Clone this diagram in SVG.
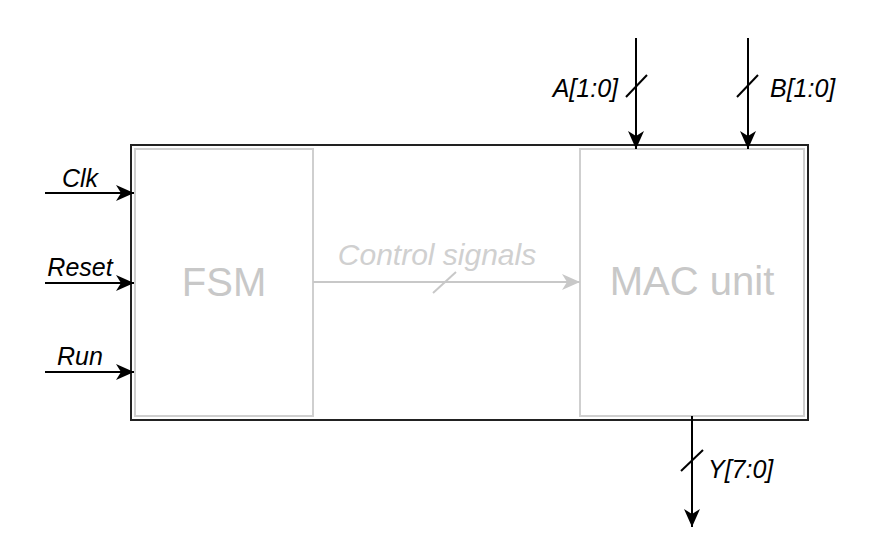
<svg xmlns="http://www.w3.org/2000/svg" width="879" height="550" viewBox="0 0 879 550">
<style>
.lbl{font-family:"Liberation Sans",Arial,sans-serif;font-style:italic;font-size:25px;fill:#000}
.big{font-family:"Liberation Sans",Arial,sans-serif;font-size:40px;fill:#c8c8c8;text-anchor:middle}
.ctl{font-family:"Liberation Sans",Arial,sans-serif;font-style:italic;font-size:30px;fill:#d0d0d0}
.wire{stroke:#000;stroke-width:2;fill:none}
.gwire{stroke:#c8c8c8;stroke-width:2;fill:none}
.inner{fill:#fff;stroke:#cfcfcf;stroke-width:2}
</style>
<defs>
<marker id="ah" viewBox="0 0 18 16" refX="18" refY="8" markerWidth="18" markerHeight="16" markerUnits="userSpaceOnUse" orient="auto">
<path d="M0,0 L18,8 L0,16 L5,8 Z" fill="#000"/>
</marker>
<marker id="ahg" viewBox="0 0 18 16" refX="18" refY="8" markerWidth="18" markerHeight="16" markerUnits="userSpaceOnUse" orient="auto">
<path d="M0,0 L18,8 L0,16 L5,8 Z" fill="#c8c8c8"/>
</marker>
</defs>
<rect width="879" height="550" fill="#fff"/>
<g id="top">
<rect x="131" y="145" width="677" height="275" fill="#fff" stroke="#222" stroke-width="2"/>
</g>
<g id="fsm">
<rect class="inner" x="135" y="149" width="178" height="267"/>
<text class="big" x="224" y="296">FSM</text>
</g>
<g id="mac">
<rect class="inner" x="580" y="149" width="224" height="267"/>
<text class="big" x="692" y="295">MAC unit</text>
</g>
<g id="connectors">
<line class="wire" x1="45" y1="193" x2="134" y2="193" marker-end="url(#ah)"/>
<line class="wire" x1="45" y1="283" x2="134" y2="283" marker-end="url(#ah)"/>
<line class="wire" x1="45" y1="372" x2="134" y2="372" marker-end="url(#ah)"/>
<line class="wire" x1="636" y1="38" x2="636" y2="149" marker-end="url(#ah)"/>
<line class="wire" x1="748" y1="38" x2="748" y2="149" marker-end="url(#ah)"/>
<line class="wire" x1="692" y1="416" x2="692" y2="527" marker-end="url(#ah)"/>
<line class="gwire" x1="313" y1="282" x2="580" y2="282" marker-end="url(#ahg)"/>
<line class="wire" x1="626" y1="97" x2="647" y2="75"/>
<line class="wire" x1="737" y1="97" x2="758" y2="75"/>
<line class="wire" x1="681" y1="471" x2="703" y2="450"/>
<line class="gwire" x1="433" y1="293" x2="456" y2="272"/>
</g>
<g id="labels">
<text class="lbl" x="80" y="187" text-anchor="middle">Clk</text>
<text class="lbl" x="80" y="276" text-anchor="middle">Reset</text>
<text class="lbl" x="80" y="365" text-anchor="middle">Run</text>
<text class="lbl" x="618" y="97" text-anchor="end">A[1:0]</text>
<text class="lbl" x="770" y="97">B[1:0]</text>
<text class="lbl" x="708" y="478">Y[7:0]</text>
<text class="ctl" x="437" y="265" text-anchor="middle">Control signals</text>
</g>
</svg>
